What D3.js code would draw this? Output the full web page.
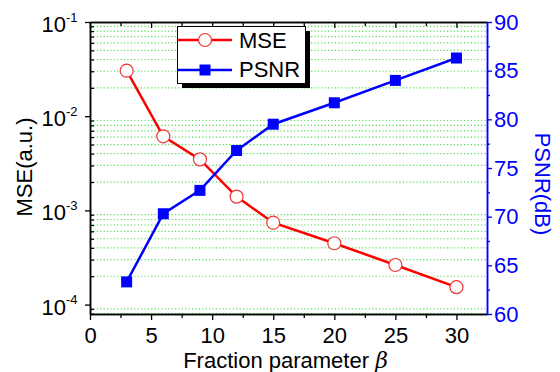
<!DOCTYPE html>
<html>
<head>
<meta charset="utf-8">
<script src="https://cdn.jsdelivr.net/npm/d3@7"></script>
<style>
  body { margin: 0; background: #fff; }
  text { font-family: Arial, "Liberation Sans", sans-serif; }
</style>
</head>
<body>
<div id="chart-area"></div>
<script>
// data
var beta = [3, 6, 9, 12, 15, 20, 25, 30];
var mse = [0.0304, 0.00612, 0.00348, 0.0014, 0.00074, 0.000448, 0.000263, 0.000153];
var psnr = [63.3, 70.3, 72.7, 76.8, 79.5, 81.7, 84.0, 86.3];
var xTicks = [0, 5, 10, 15, 20, 25, 30];
var xMinor = [2.5, 7.5, 12.5, 17.5, 22.5, 27.5];
var mseExp = [-4, -3, -2, -1];
var psnrTicks = [60, 65, 70, 75, 80, 85, 90];
var psnrMinor = [62.5, 67.5, 72.5, 77.5, 82.5, 87.5];

var W = 560, H = 372;
var pL = 90, pR = 487, pT = 22, pB = 314;
var red = "#ff0000", blue = "#0000ff", green = "#55dd55";
var fs = 22;

var svg = d3.select("#chart-area").append("svg")
  .attr("width", W)
  .attr("height", H);

var x = d3.scaleLinear().domain([0, 32.5]).range([pL, pR]);
var yL = d3.scaleLog().domain([Math.pow(10, -4.1), 0.1]).range([pB, pT]);
var yR = d3.scaleLinear().domain([60, 90]).range([pB, pT]);

// minor log positions (2..9 x 10^k) inside the domain
var logMinor = [];
[-5, -4, -3, -2].forEach(function(e) {
  for (var m = 2; m <= 9; m++) {
    var v = m * Math.pow(10, e);
    if (v >= yL.domain()[0] && v <= yL.domain()[1]) logMinor.push(v);
  }
});

// grid
svg.append("g").selectAll("line").data(logMinor).enter()
  .append("line")
    .attr("x1", pL).attr("x2", pR)
    .attr("y1", function(d) { return yL(d); })
    .attr("y2", function(d) { return yL(d); })
    .attr("stroke", green)
    .attr("stroke-width", 1.2)
    .attr("stroke-dasharray", "1.2,2.2");

// axes
function clean(g, color) {
  g.selectAll("path").attr("stroke", color).attr("stroke-width", 1.5);
  g.selectAll("line").attr("stroke", color).attr("stroke-width", 1.3);
  g.selectAll("text").remove();
}

var xb = svg.append("g").attr("transform", "translate(0," + pB + ")")
  .call(d3.axisBottom(x).tickValues(xTicks).tickSize(6).tickSizeOuter(0));
xb.selectAll("text").attr("font-size", fs).attr("fill", "#000").attr("dy", "0.9em")
  .attr("font-family", "Arial, 'Liberation Sans', sans-serif");
xb.select("path").attr("stroke", "#000").attr("stroke-width", 1.5);
xb.selectAll("line").attr("stroke", "#000").attr("stroke-width", 1.3);

svg.append("g").attr("transform", "translate(0," + pB + ")")
  .call(d3.axisBottom(x).tickValues(xMinor).tickSize(4).tickSizeOuter(0))
  .call(clean, "#000");

svg.append("g").attr("transform", "translate(0," + pT + ")")
  .call(d3.axisBottom(x).tickValues(xTicks).tickSize(6).tickSizeOuter(0))
  .call(clean, "#000");
svg.append("g").attr("transform", "translate(0," + pT + ")")
  .call(d3.axisBottom(x).tickValues(xMinor).tickSize(4).tickSizeOuter(0))
  .call(clean, "#000");

var majors = mseExp.map(function(e) { return Math.pow(10, e); });
svg.append("g").attr("transform", "translate(" + pL + ",0)")
  .call(d3.axisLeft(yL).tickValues(majors).tickSize(5).tickSizeOuter(0))
  .call(clean, "#000");
svg.append("g").attr("transform", "translate(" + pL + ",0)")
  .call(d3.axisRight(yL).tickValues(logMinor).tickSize(4).tickSizeOuter(0))
  .call(clean, "#000");

// left tick labels 10^n
svg.append("g").selectAll("text").data(mseExp).enter()
  .append("text")
    .attr("x", 66)
    .attr("y", function(d) { return yL(Math.pow(10, d)) + 10; })
    .attr("text-anchor", "end")
    .attr("font-size", fs)
    .text("10");
svg.append("g").selectAll("text").data(mseExp).enter()
  .append("text")
    .attr("x", 66)
    .attr("y", function(d) { return yL(Math.pow(10, d)) - 0.5; })
    .attr("font-size", 13)
    .text(function(d) { return "-" + Math.abs(d); });

var yr = svg.append("g").attr("transform", "translate(" + pR + ",0)")
  .call(d3.axisRight(yR).tickValues(psnrTicks).tickSize(5).tickSizeOuter(0));
yr.select("path").attr("stroke", blue).attr("stroke-width", 1.5);
yr.selectAll("line").attr("stroke", blue).attr("stroke-width", 1.3);
yr.selectAll("text").attr("font-size", fs).attr("fill", blue).attr("x", 7)
  .attr("font-family", "Arial, 'Liberation Sans', sans-serif");
svg.append("g").attr("transform", "translate(" + pR + ",0)")
  .call(d3.axisRight(yR).tickValues(psnrMinor).tickSize(3).tickSizeOuter(0))
  .call(clean, blue);

// axis titles
svg.append("text")
  .attr("transform", "translate(" + ((pL + pR) / 2 - 3) + ",368)")
  .attr("text-anchor", "middle")
  .attr("font-size", fs)
  .html('Fraction parameter <tspan font-style="italic" font-family="DejaVu Serif, serif">β</tspan>');

svg.append("text")
  .attr("transform", "translate(32,167) rotate(-90)")
  .attr("text-anchor", "middle")
  .attr("font-size", fs)
  .text("MSE(a.u.)");

svg.append("text")
  .attr("transform", "translate(535,184) rotate(90)")
  .attr("text-anchor", "middle")
  .attr("font-size", fs)
  .attr("fill", blue)
  .text("PSNR(dB)");

// series
var mseLine = d3.line()
  .x(function(d, i) { return x(beta[i]); })
  .y(function(d) { return yL(d); });
var psnrLine = d3.line()
  .x(function(d, i) { return x(beta[i]); })
  .y(function(d) { return yR(d); });

svg.append("path").datum(mse)
  .attr("d", mseLine).attr("fill", "none")
  .attr("stroke", red).attr("stroke-width", 2.5);
svg.append("path").datum(psnr)
  .attr("d", psnrLine).attr("fill", "none")
  .attr("stroke", blue).attr("stroke-width", 2.5);

svg.selectAll("circle.mse").data(mse).enter()
  .append("circle")
    .attr("cx", function(d, i) { return x(beta[i]); })
    .attr("cy", function(d) { return yL(d); })
    .attr("r", 6.5)
    .attr("fill", "#fff")
    .attr("stroke", "#e33")
    .attr("stroke-width", 1.2);

svg.selectAll("rect.psnr").data(psnr).enter()
  .append("rect")
    .attr("x", function(d, i) { return x(beta[i]) - 5.5; })
    .attr("y", function(d) { return yR(d) - 5.5; })
    .attr("width", 11)
    .attr("height", 11)
    .attr("fill", blue);

// legend
var lg = svg.append("g");
lg.append("rect").attr("x", 182).attr("y", 31).attr("width", 128).attr("height", 57).attr("fill", "#000");
lg.append("rect").attr("x", 177.5).attr("y", 26.5).attr("width", 128).attr("height", 57)
  .attr("fill", "#fff").attr("stroke", "#000").attr("stroke-width", 1);
lg.append("line").attr("x1", 178).attr("x2", 232).attr("y1", 40).attr("y2", 40)
  .attr("stroke", red).attr("stroke-width", 2.5);
lg.append("circle").attr("cx", 205).attr("cy", 40).attr("r", 6.5)
  .attr("fill", "#fff").attr("stroke", "#e33").attr("stroke-width", 1.2);
lg.append("line").attr("x1", 178).attr("x2", 232).attr("y1", 70).attr("y2", 70)
  .attr("stroke", blue).attr("stroke-width", 2.5);
lg.append("rect").attr("x", 199.5).attr("y", 64.5).attr("width", 11).attr("height", 11).attr("fill", blue);
lg.append("text").attr("x", 239).attr("y", 48).attr("font-size", fs).text("MSE");
lg.append("text").attr("x", 239).attr("y", 77).attr("font-size", fs).text("PSNR");
</script>
</body>
</html>
